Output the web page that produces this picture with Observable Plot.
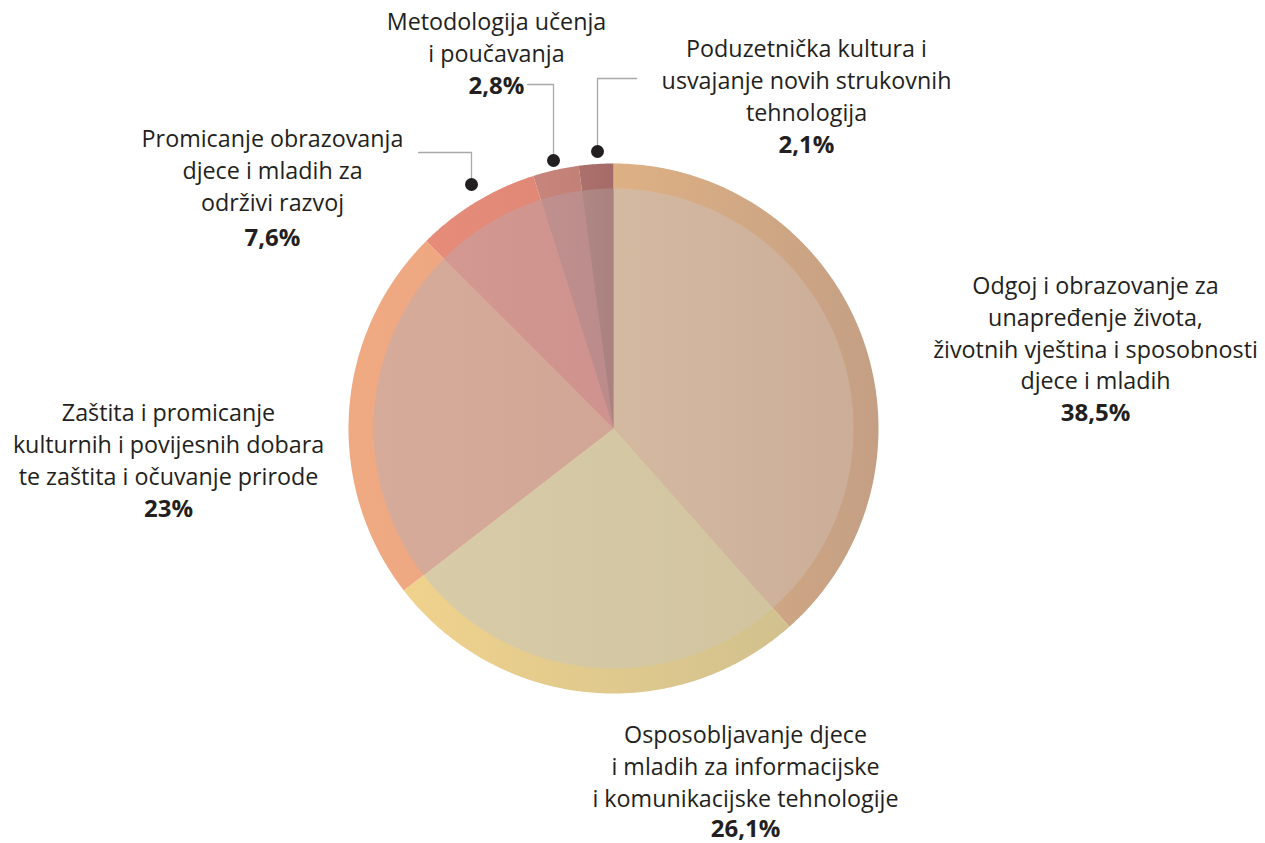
<!DOCTYPE html>
<html><head><meta charset="utf-8">
<script src="https://cdn.jsdelivr.net/npm/d3@7"></script>
<script src="https://cdn.jsdelivr.net/npm/@observablehq/plot@0.6"></script>
<style>html,body{margin:0;padding:0;background:#fff;overflow:hidden}</style>
</head><body><div id="chart"></div>
<script>
// ---- data ----
const categories = [
  "Odgoj i obrazovanje za unapređenje života, životnih vještina i sposobnosti djece i mladih",
  "Osposobljavanje djece i mladih za informacijske i komunikacijske tehnologije",
  "Zaštita i promicanje kulturnih i povijesnih dobara te zaštita i očuvanje prirode",
  "Promicanje obrazovanja djece i mladih za održivi razvoj",
  "Metodologija učenja i poučavanja",
  "Poduzetnička kultura i usvajanje novih strukovnih tehnologija"
];
const labelLines = [
  ["Odgoj i obrazovanje za", "unapređenje života,", "životnih vještina i sposobnosti", "djece i mladih"],
  ["Osposobljavanje djece", "i mladih za informacijske", "i komunikacijske tehnologije"],
  ["Zaštita i promicanje", "kulturnih i povijesnih dobara", "te zaštita i očuvanje prirode"],
  ["Promicanje obrazovanja", "djece i mladih za", "održivi razvoj"],
  ["Metodologija učenja", "i poučavanja"],
  ["Poduzetnička kultura i", "usvajanje novih strukovnih", "tehnologija"]
];
const values = [38.5, 26.1, 23, 7.6, 2.8, 2.1];

// ---- styles ----
const ringColors = [
  ["#deb184", "#c49f84"],
  ["#f0d28c", "#d1c18e"],
  ["#f0aa82", "#eba380"],
  ["#e68c79", "#de8576"],
  ["#c8857b", "#bf7c74"],
  ["#ad716c", "#a56b68"]
];
const innerColors = [
  ["#d4b9a1", "#ccae98"],
  ["#d8cba8", "#d1c49f"],
  ["#d6ab9a", "#d2a696"],
  ["#d39892", "#cf928e"],
  ["#bf908e", "#ba8b8a"],
  ["#af8783", "#a98280"]
];
const textColor = "#231f20";

// ---- layout ----
const W = 1265, H = 843;
const CX = 613, CY = 428, R_OUT = 265, R_IN = 240;
const FONT = "Open Sans, Noto Sans, sans-serif";
const FS = 23.3, FS_BOLD = 24, LINE_GAP = 31.8;
const labelLayout = [
  {x: 1095, y: 286, pctGap: 0},
  {x: 745, y: 735, pctGap: -2},
  {x: 168, y: 413, pctGap: 0},
  {x: 272, y: 139, pctGap: 3},
  {x: 496, y: 22, pctGap: 0},
  {x: 806, y: 49, pctGap: 0}
];
const leaders = [
  null, null, null,
  [[418, 152], [471, 152], [471, 184]],
  [[527, 84], [553, 84], [553, 160]],
  [[636, 78], [597, 78], [597, 151]]
];

// ---- build geometry from data ----
const arcs = d3.pie().sort(null).value(d => d)(values);
function sectorPoints(a0, a1, r, key) {
  const pts = [{x: CX, y: CY, key}];
  const n = Math.max(8, Math.ceil((a1 - a0) * 180 / Math.PI * 3));
  for (let i = 0; i <= n; i++) {
    const a = a0 + (a1 - a0) * i / n;
    pts.push({x: CX + r * Math.sin(a), y: CY - r * Math.cos(a), key});
  }
  pts.push({x: CX, y: CY, key});
  return pts;
}
const outerPts = arcs.flatMap((a, i) =>
  sectorPoints(a.startAngle, a.endAngle, R_OUT, i).map(p => ({...p, fill: `url(#ring${i})`})));
const innerPts = arcs.flatMap((a, i) =>
  sectorPoints(a.startAngle, a.endAngle, R_IN, i).map(p => ({...p, fill: `url(#inner${i})`})));

const fmt = v => String(v).replace(".", ",") + "%";
const nameRows = labelLines.flatMap((lines, i) =>
  lines.map((t, j) => ({x: labelLayout[i].x, y: labelLayout[i].y + j * LINE_GAP, text: t})));
const pctRows = values.map((v, i) => ({
  x: labelLayout[i].x,
  y: labelLayout[i].y + labelLines[i].length * LINE_GAP + labelLayout[i].pctGap,
  text: fmt(v)
}));
const leaderPts = leaders.flatMap((l, i) => l ? l.map(([x, y]) => ({x, y, key: i})) : []);
const dotPts = leaders.flatMap((l, i) => l ? [{x: l[l.length - 1][0], y: l[l.length - 1][1]}] : []);

const chart = Plot.plot({
  width: W, height: H,
  margin: 0,
  x: {domain: [0, W], range: [0, W], axis: null},
  y: {domain: [0, H], range: [0, H], axis: null},
  color: {type: "identity"},
  style: {background: "#fff", fontFamily: FONT},
  marks: [
    Plot.line(outerPts, {x: "x", y: "y", z: "key", fill: "fill", stroke: "none", curve: "linear"}),
    Plot.line(innerPts, {x: "x", y: "y", z: "key", fill: "fill", stroke: "none", curve: "linear"}),
    Plot.line(leaderPts, {x: "x", y: "y", z: "key", stroke: "#a7a9ac", strokeWidth: 1.3}),
    Plot.dot(dotPts, {x: "x", y: "y", r: 6.5, fill: textColor, stroke: "none"}),
    Plot.text(nameRows, {x: "x", y: "y", text: "text", fontSize: FS, fill: textColor, textAnchor: "middle", lineAnchor: "middle"}),
    Plot.text(pctRows, {x: "x", y: "y", text: "text", fontSize: FS_BOLD, fontWeight: "bold", fill: textColor, textAnchor: "middle", lineAnchor: "middle"})
  ]
});

// gradient definitions
const svg = d3.select(chart);
const defs = svg.insert("defs", ":first-child");
function addGrad(id, c) {
  const g = defs.append("linearGradient").attr("id", id)
    .attr("x1", "0").attr("y1", "0").attr("x2", "1").attr("y2", "0");
  g.append("stop").attr("offset", "0").attr("stop-color", c[0]);
  g.append("stop").attr("offset", "1").attr("stop-color", c[1]);
}
ringColors.forEach((c, i) => addGrad(`ring${i}`, c));
innerColors.forEach((c, i) => addGrad(`inner${i}`, c));

document.getElementById("chart").appendChild(chart);
</script>
</body></html>
